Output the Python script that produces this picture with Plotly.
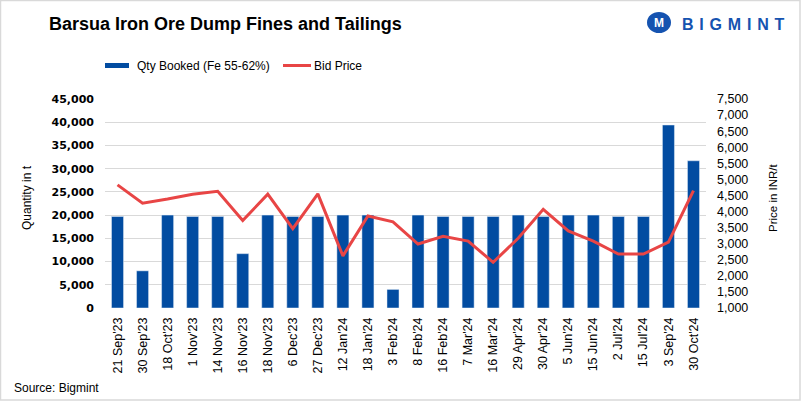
import plotly.graph_objects as go

categories = ["21 Sep'23", "30 Sep'23", "18 Oct'23", "1 Nov'23", "14 Nov'23", "16 Nov'23",
              "18 Nov'23", "6 Dec'23", "27 Dec'23", "12 Jan'24", "18 Jan'24", "3 Feb'24",
              "8 Feb'24", "16 Feb'24", "7 Mar'24", "16 Mar'24", "29 Apr'24", "30 Apr'24",
              "5 Jun'24", "15 Jun'24", "2 Jul'24", "15 Jul'24", "3 Sep'24", "30 Oct'24"]
qty_booked = [19700, 8000, 20000, 19700, 19700, 11700, 20000, 19700, 19700, 20000, 20000, 4000,
              20000, 19700, 19700, 19700, 20000, 19700, 20000, 20000, 19700, 19700, 39400, 31700]
bid_price = [4830, 4260, 4390, 4540, 4630, 3720, 4540, 3470, 4550, 2620, 3860, 3680,
             2990, 3230, 3080, 2420, 3170, 4070, 3400, 3080, 2680, 2680, 3050, 4650]
left_ticks = list(range(0, 45001, 5000))
right_ticks = list(range(1000, 7501, 500))

W, H = 801, 402
L, R, T, B = 105, 95, 99, 94
PW, PH = W - L - R, H - T - B

def fx(p):
    return (p - L) / PW

def fy(p):
    return (H - B - p) / PH

BLUE = "#024ca1"
RED = "#e84545"

fig = go.Figure()
fig.add_trace(go.Bar(x=categories, y=qty_booked, name="Qty Booked (Fe 55-62%)",
                     marker_color=BLUE, yaxis="y", showlegend=False))
fig.add_trace(go.Scatter(x=categories, y=bid_price, name="Bid Price", mode="lines",
                         line=dict(color=RED, width=3), yaxis="y2", showlegend=False))

fig.update_layout(
    width=W, height=H,
    margin=dict(l=L, r=R, t=T, b=B),
    paper_bgcolor="white", plot_bgcolor="white",
    bargap=0.52,
    title=dict(text="<b>Barsua Iron Ore Dump Fines and Tailings</b>",
               x=49 / W, xanchor="left", xref="container",
               y=1 - 24 / H, yanchor="middle", yref="container",
               font=dict(family="Liberation Sans, Arial", size=18, color="#000000")),
    xaxis=dict(tickangle=-90, tickfont=dict(family="Liberation Sans, Arial", size=12.5, color="#000000"),
               showgrid=False, showline=False, ticks="", ticklabelstandoff=6),
    yaxis=dict(range=[0, 45000], tickvals=left_ticks, tickformat=",",
               tickfont=dict(family="DejaVu Sans", size=11, color="#000000", weight="bold"),
               showgrid=True, gridcolor="#d9d9d9", gridwidth=1, zeroline=False,
               showline=False, ticks="", ticklabelstandoff=10),
    yaxis2=dict(range=[1000, 7500], tickvals=right_ticks, tickformat=",",
                overlaying="y", side="right",
                tickfont=dict(family="Liberation Sans, Arial", size=12.5, color="#000000"),
                showgrid=False, zeroline=False, showline=False, ticks="", ticklabelstandoff=10),
)

shapes = [
    # frame
    dict(type="rect", xref="paper", yref="paper", x0=fx(0.5), x1=fx(800), y0=fy(400), y1=fy(0.5),
         line=dict(color="#d9d9d9", width=1.5), layer="below"),
    # legend keys
    dict(type="rect", xref="paper", yref="paper", x0=fx(105), x1=fx(129), y0=fy(68), y1=fy(63),
         fillcolor=BLUE, line=dict(width=0)),
    dict(type="line", xref="paper", yref="paper", x0=fx(283), x1=fx(311), y0=fy(65.5), y1=fy(65.5),
         line=dict(color=RED, width=3)),
    # logo icon
    dict(type="circle", xref="paper", yref="paper", x0=fx(647), x1=fx(671), y0=fy(33), y1=fy(12),
         fillcolor="#1553b0", line=dict(width=0)),
]
fig.update_layout(shapes=shapes)

gap = "\u00a0\u200a"
logo_text = "<b>" + gap.join("BIGMINT") + "</b>"

ann_font = dict(family="Liberation Sans, Arial", size=12, color="#000000")
annotations = [
    dict(text="Qty Booked (Fe 55-62%)", x=fx(135), y=fy(65.5), xanchor="left", yanchor="middle",
         font=ann_font),
    dict(text="Bid Price", x=fx(312), y=fy(65.5), xanchor="left", yanchor="middle", font=ann_font),
    dict(text="Quantity in t", x=fx(27), y=fy(198), xanchor="center", yanchor="middle", textangle=-90,
         font=dict(family="Liberation Sans Narrow, Arial Narrow, Liberation Sans", size=12, color="#000000")),
    dict(text="Price in INR/t", x=fx(773), y=fy(197), xanchor="center", yanchor="middle", textangle=-90,
         font=dict(family="Liberation Sans, Arial", size=11.5, color="#000000")),
    dict(text="Source: Bigmint", x=fx(12), y=fy(388), xanchor="left", yanchor="middle", font=ann_font),
    dict(text=logo_text, x=fx(680), y=fy(24.5), xanchor="left",
         yanchor="middle", font=dict(family="Liberation Sans, Arial", size=16, color="#1553b0")),
    dict(text="<b>M</b>", x=fx(659), y=fy(23), xanchor="center", yanchor="middle",
         font=dict(family="Liberation Sans, Arial", size=12, color="white")),
]
for a in annotations:
    a.update(xref="paper", yref="paper", showarrow=False)
fig.update_layout(annotations=annotations)

fig.write_html("out.html", config={"displayModeBar": False},
               post_script="document.body.style.margin='0';document.body.style.overflow='hidden';")
